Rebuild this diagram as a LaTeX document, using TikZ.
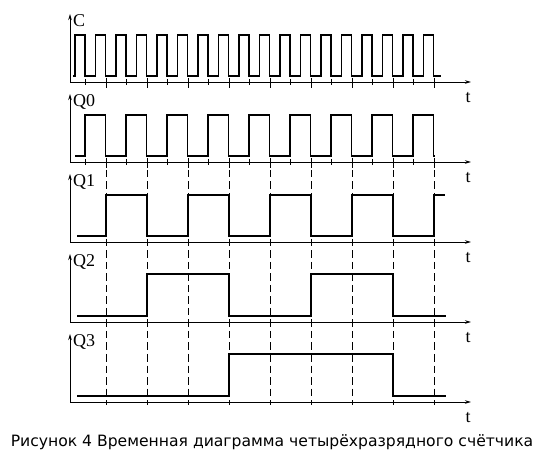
\documentclass[tikz,border=0pt]{standalone}
\usepackage{fontspec}
\setmainfont{Liberation Serif}
\newfontfamily\capfont{DejaVu Sans}
\usetikzlibrary{arrows.meta}
\tikzset{
  wave/.style={line width=1.9pt, line join=miter, line cap=butt},
  axis/.style={line width=0.9pt, -{Stealth[length=6pt,width=3.5pt]}},
  tick/.style={line width=0.9pt},
  guide/.style={line width=0.8pt, dash pattern=on 7.5pt off 4pt},
  sig/.style={font=\fontsize{18}{18}\selectfont, anchor=base west, inner sep=0pt},
  tlab/.style={font=\fontsize{18}{18}\selectfont, inner sep=0pt},
}
\begin{document}
\begin{tikzpicture}[x=1pt,y=-1pt]
\useasboundingbox (0,0) rectangle (544,457);
% axes
\foreach \A/\n/\lab in {82/c/C,162/q0/Q0,242/q1/Q1,322/q2/Q2,402/q3/Q3}{
  \coordinate (o\n) at (70,\A);
  \coordinate (ty\n) at (70,\A-68);
  \coordinate (tx\n) at (471,\A);
  \draw[axis] (o\n) -- (ty\n);
  \draw[axis] (o\n) -- (tx\n);
  \node[sig] (l\n) at (73,\A-55) {\lab};
  \node[tlab] (t\n) at (468,\A+16) {t};
}
% ticks on C and Q0 axes
\foreach \A in {82,162}{
  \foreach \k in {0,...,8}{
    \draw[tick] ({85+41*\k},\A-3) -- ({85+41*\k},\A+3);
    \draw[tick] ({106+41*\k},\A-4) -- ({106+41*\k},\A+6);
  }
}
% dashed guides
\foreach \k in {0,...,8}{
  \draw[guide] ({106+41*\k},170) -- ({106+41*\k},405);
}
% C
\draw[wave] (73,76) \foreach \k in {0,...,17}{ -- ({75+20.5*\k},76) -- ({75+20.5*\k},35) -- ({85+20.5*\k},35) -- ({85+20.5*\k},76) } -- (441,76);
% Q0
\draw[wave] (75,156) \foreach \k in {0,...,8}{ -- ({85+41*\k},156) -- ({85+41*\k},115) -- ({105.5+41*\k},115) -- ({105.5+41*\k},156) } -- (435,156);
% Q1
\draw[wave] (77,236) \foreach \k in {0,...,3}{ -- ({106+82*\k},236) -- ({106+82*\k},195) -- ({147+82*\k},195) -- ({147+82*\k},236) } -- (434,236) -- (434,195) -- (445,195);
% Q2
\draw[wave] (77,316) -- (147,316) -- (147,274) -- (229,274) -- (229,316) -- (311,316) -- (311,274) -- (393,274) -- (393,316) -- (446,316);
% Q3
\draw[wave] (77,396) -- (229,396) -- (229,354) -- (393,354) -- (393,396) -- (446,396);
% caption
\node[font=\capfont\fontsize{15.6}{15.6}\selectfont, anchor=base, inner sep=0pt] (cap) at (272,446.5) {Рисунок 4 Временная диаграмма четырёхразрядного счётчика};
\end{tikzpicture}
\end{document}
